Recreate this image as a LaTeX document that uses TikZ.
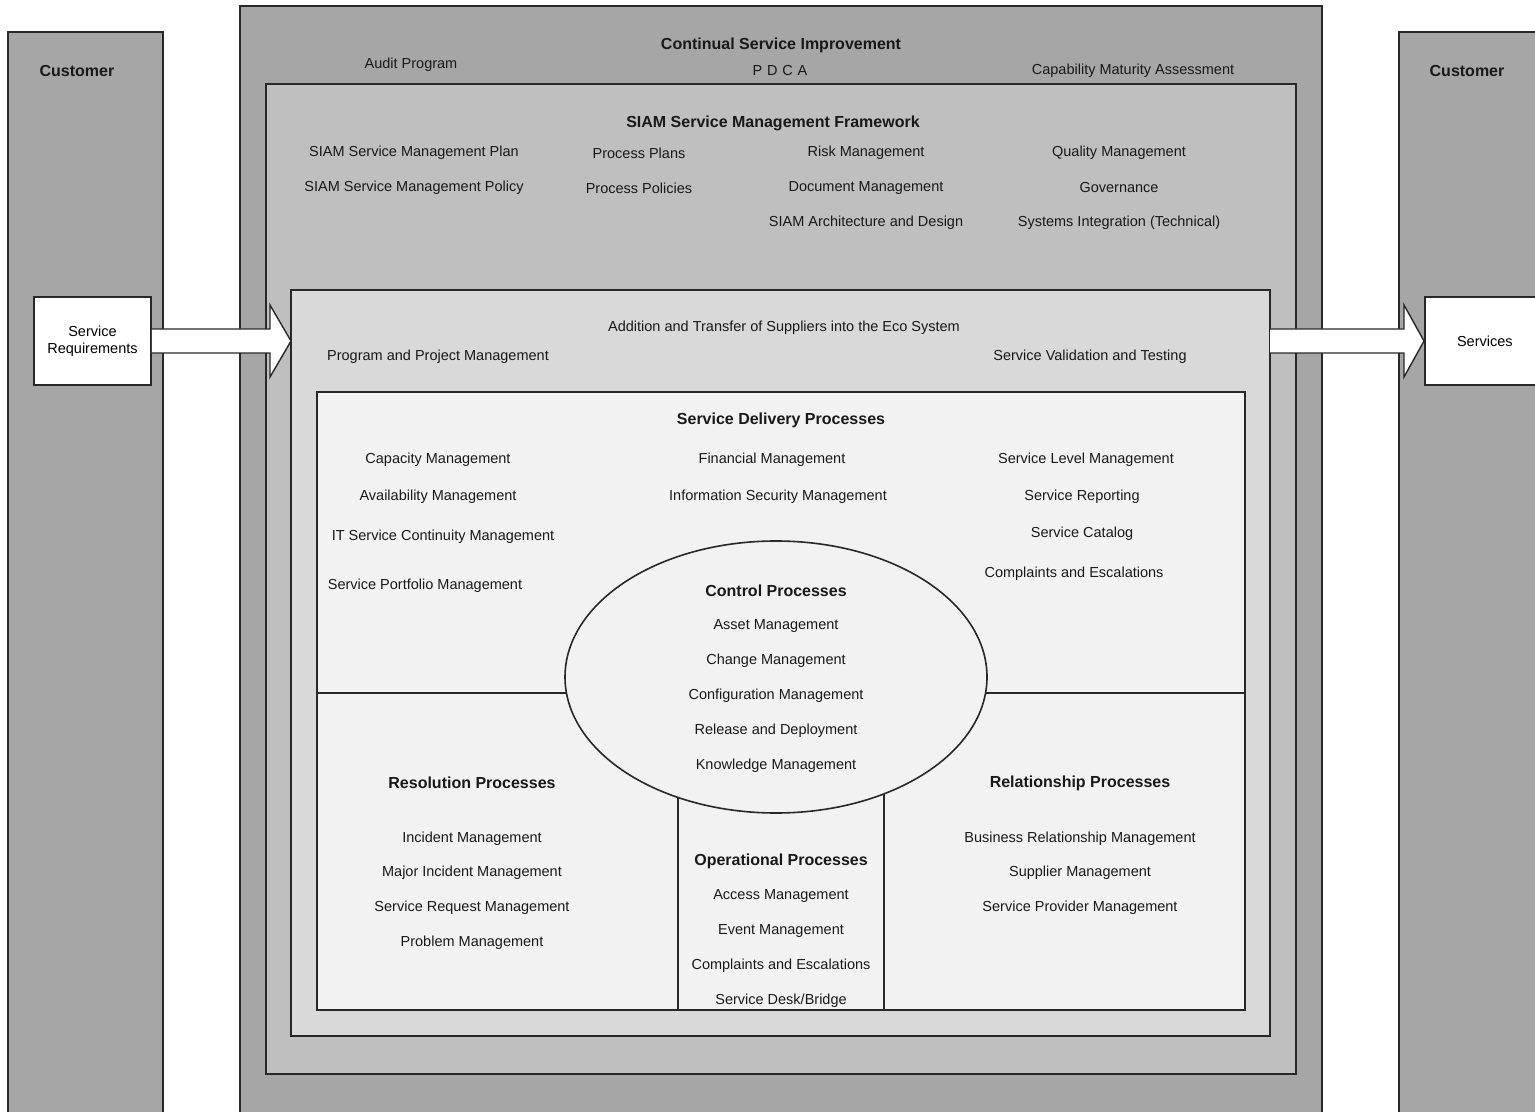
\documentclass[tikz,border=0pt]{standalone}
\usepackage{fontspec}
\setmainfont{Liberation Sans}
\usetikzlibrary{calc}
\definecolor{gOuter}{RGB}{166,166,166}
\definecolor{gFrame}{RGB}{191,191,191}
\definecolor{gMid}{RGB}{217,217,217}
\definecolor{gInner}{RGB}{242,242,242}
\definecolor{edge}{RGB}{40,40,40}
\tikzset{
  lbl/.style={font=\fontsize{7.25}{8.5}\selectfont, inner sep=0pt, text=black!90, yshift=-1pt},
  ttl/.style={font=\fontsize{8}{9.5}\selectfont\bfseries, inner sep=0pt, text=black!90, yshift=-1pt},
  panel/.style={draw=edge, line width=0.8pt},
  whitebox/.style={draw=edge, line width=0.8pt, fill=white, inner sep=0pt,
    font=\fontsize{7.25}{8.5}\selectfont, align=center},
  blockarrow/.style={draw=edge, line width=0.7pt, fill=white, line join=miter},
}
\begin{document}
\begin{tikzpicture}[x=0.5pt, y=-0.5pt]
\clip (0,0) rectangle (1535,1112);
\fill[white] (0,0) rectangle (1535,1112);

% customer lanes
\draw[panel, fill=gOuter] (8,32) rectangle (163,1130);
\draw[panel, fill=gOuter] (1399,32) rectangle (1560,1130);
\node[ttl] (custL) at (77,69) {Customer};
\node[ttl] (custR) at (1467,69) {Customer};

% nested frames
\draw[panel, fill=gOuter] (240,6) rectangle (1322,1130);
\draw[panel, fill=gFrame] (266,84) rectangle (1296,1074);
\draw[panel, fill=gMid] (291,290) rectangle (1270,1036);
\coordinate (midW) at (291,341);
\coordinate (midE) at (1270,341);
\draw[panel, fill=gInner] (317,392) rectangle (1245,1010);

% quadrant divider and operational column
\draw[panel] (317,693) -- (1245,693);
\draw[panel] (678,760) rectangle (884,1010);
\draw[panel, fill=gInner] (776,677) ellipse [x radius=211, y radius=136];

% requirement and service boxes
\node[whitebox, minimum width=117*0.5pt, minimum height=88*0.5pt] (sreq) at (92.5,341) {Service\\Requirements};
\node[whitebox, minimum width=120*0.5pt, minimum height=88*0.5pt, anchor=west] (serv) at (1424,341) {Services};

% block arrows
\draw[blockarrow] ($(sreq.east)+(0,-12)$) -- ($(midW)+(-21,-12)$) -- ($(midW)+(-21,-36)$) -- (midW)
  -- ($(midW)+(-21,36)$) -- ($(midW)+(-21,12)$) -- ($(sreq.east)+(0,12)$);
\draw[blockarrow] ($(midE)+(0,-12)$) -- ($(serv.west)+(-20,-12)$) -- ($(serv.west)+(-20,-36)$) -- (serv.west)
  -- ($(serv.west)+(-20,36)$) -- ($(serv.west)+(-20,12)$) -- ($(midE)+(0,12)$);

% continual service improvement
\node[ttl] (csi) at (781,43) {Continual Service Improvement};
\node[lbl] (audit) at (411,63) {Audit Program};
\node[lbl] (pdca) at (780,69) {P\,\,D\,\,C\,\,A};
\node[lbl] (cma) at (1133,69) {Capability Maturity Assessment};

% SIAM framework
\node[ttl] (fw) at (773,121) {SIAM Service Management Framework};
\node[lbl] at (414,151) {SIAM Service Management Plan};
\node[lbl] at (639,151) {Process Plans};
\node[lbl] at (866,151) {Risk Management};
\node[lbl] at (1119,151) {Quality Management};
\node[lbl] at (414,186) {SIAM Service Management Policy};
\node[lbl] at (639,186) {Process Policies};
\node[lbl] at (866,186) {Document Management};
\node[lbl] at (1119,186) {Governance};
\node[lbl] at (866,221) {SIAM Architecture and Design};
\node[lbl] at (1119,221) {Systems Integration (Technical)};

% transition layer
\node[lbl] at (784,326) {Addition and Transfer of Suppliers into the Eco System};
\node[lbl] at (438,355) {Program and Project Management};
\node[lbl] at (1090,355) {Service Validation and Testing};

% service delivery
\node[ttl] at (781,418) {Service Delivery Processes};
\node[lbl] at (438,458) {Capacity Management};
\node[lbl] at (438,495) {Availability Management};
\node[lbl] at (443,535) {IT Service Continuity Management};
\node[lbl] at (425,584) {Service Portfolio Management};
\node[lbl] at (772,458) {Financial Management};
\node[lbl] at (778,495) {Information Security Management};
\node[lbl] at (1086,458) {Service Level Management};
\node[lbl] at (1082,495) {Service Reporting};
\node[lbl] at (1082,532) {Service Catalog};
\node[lbl] at (1074,572) {Complaints and Escalations};

% control
\node[ttl] at (776,589) {Control Processes};
\node[lbl] at (776,624) {Asset Management};
\node[lbl] at (776,659) {Change Management};
\node[lbl] at (776,694) {Configuration Management};
\node[lbl] at (776,729) {Release and Deployment};
\node[lbl] at (776,764) {Knowledge Management};

% resolution
\node[ttl] at (472,781) {Resolution Processes};
\node[lbl] at (472,837) {Incident Management};
\node[lbl] at (472,871) {Major Incident Management};
\node[lbl] at (472,906) {Service Request Management};
\node[lbl] at (472,941) {Problem Management};

% operational
\node[ttl] at (781,859) {Operational Processes};
\node[lbl] at (781,894) {Access Management};
\node[lbl] at (781,929) {Event Management};
\node[lbl] at (781,964) {Complaints and Escalations};
\node[lbl] at (781,999) {Service Desk/Bridge};

% relationship
\node[ttl] at (1080,781) {Relationship Processes};
\node[lbl] at (1080,837) {Business Relationship Management};
\node[lbl] at (1080,871) {Supplier Management};
\node[lbl] at (1080,906) {Service Provider Management};
\end{tikzpicture}
\end{document}
